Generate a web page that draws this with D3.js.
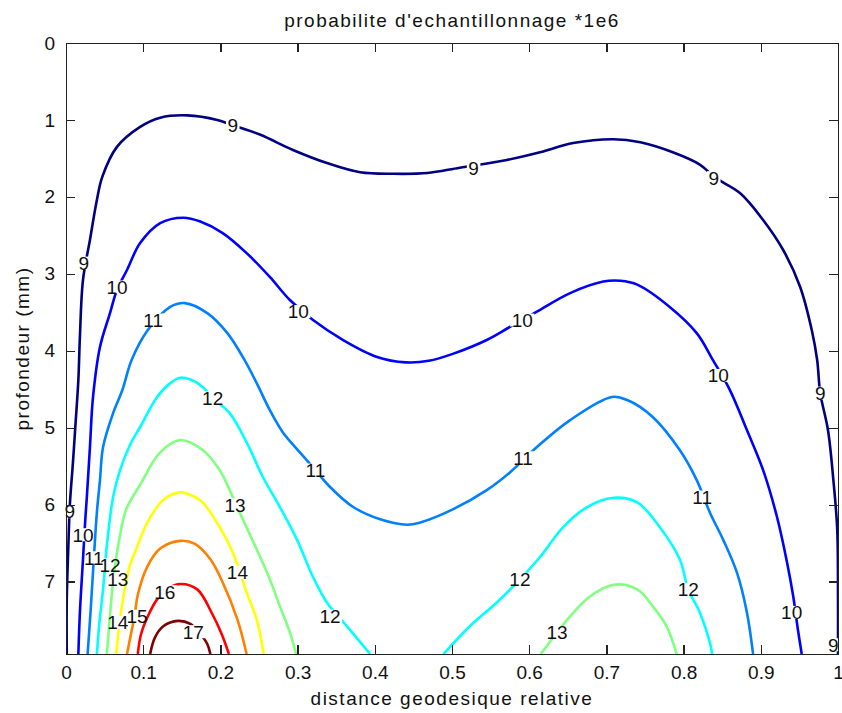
<!DOCTYPE html>
<html lang="fr">
<head>
<meta charset="utf-8">
<title>probabilite d'echantillonnage</title>
<script src="https://cdn.jsdelivr.net/npm/d3@7"></script>
<style>
body { margin: 0; background: #fff; }
text { font-family: "Liberation Sans", Arial, sans-serif; fill: #111; }
.axis path,
.axis line {
  stroke: #222;
  stroke-width: 1.4px;
  shape-rendering: crispEdges;
}
.axis text { font-size: 19px; fill: #111; }
.clabel { font-size: 19px; }
.caption { font-size: 19px; letter-spacing: 1.5px; }
</style>
</head>
<body>
<script>
var w = 842, h = 713;
var padL = 66, padR = 838, padT = 43, padB = 654;

// contour levels and their jet colours
var levels = [9, 10, 11, 12, 13, 14, 15, 16, 17];
var levelColors = ["#000080", "#0000ff", "#0080ff", "#00ffff", "#80ff80",
                   "#ffff00", "#ff8000", "#ff0000", "#800000"];

var xTicks = [0, 0.1, 0.2, 0.3, 0.4, 0.5, 0.6, 0.7, 0.8, 0.9, 1];
var xTickLabels = ["0", "0.1", "0.2", "0.3", "0.4", "0.5", "0.6", "0.7", "0.8", "0.9", "1"];
var yTicks = [0, 1, 2, 3, 4, 5, 6, 7];
var yTickLabels = ["0", "1", "2", "3", "4", "5", "6", "7"];
var yMax = 7.94;

// contour lines: [distance relative, profondeur mm]
var c9 = [[0.001,7.94],[0.001,7.23],[0.003,6.55],[0.005,6.00],[0.009,5.45],[0.012,5.00],[0.016,4.38],
  [0.018,3.82],[0.022,3.08],[0.031,2.56],[0.040,2.04],[0.047,1.74],[0.066,1.35],[0.096,1.09],
  [0.122,0.97],[0.157,0.94],[0.196,1.00],[0.216,1.07],[0.251,1.19],[0.294,1.39],[0.338,1.56],
  [0.381,1.68],[0.424,1.70],[0.468,1.69],[0.510,1.62],[0.571,1.52],[0.614,1.42],[0.657,1.30],
  [0.709,1.25],[0.744,1.29],[0.786,1.42],[0.821,1.58],[0.841,1.75],[0.873,1.95],[0.903,2.30],
  [0.929,2.69],[0.951,3.17],[0.966,3.73],[0.973,4.12],[0.977,4.55],[0.987,5.03],[0.994,5.68],
  [0.999,6.32],[1.0,7.19],[1.0,7.94]];
var c10 = [[0.016,7.94],[0.018,7.40],[0.022,6.71],[0.025,6.19],[0.027,5.90],[0.031,5.25],[0.035,4.60],
  [0.044,3.95],[0.057,3.51],[0.066,3.21],[0.079,2.95],[0.096,2.60],[0.122,2.34],[0.152,2.27],
  [0.174,2.32],[0.203,2.47],[0.234,2.73],[0.264,3.04],[0.290,3.34],[0.320,3.60],[0.359,3.86],
  [0.403,4.08],[0.440,4.15],[0.470,4.13],[0.501,4.04],[0.545,3.86],[0.575,3.69],[0.610,3.49],
  [0.653,3.25],[0.696,3.10],[0.718,3.09],[0.740,3.14],[0.782,3.43],[0.817,3.77],[0.838,4.12],
  [0.860,4.51],[0.882,5.03],[0.903,5.55],[0.921,6.16],[0.934,6.75],[0.942,7.19],[0.948,7.62],
  [0.953,7.94]];
var c11 = [[0.028,7.94],[0.032,7.36],[0.036,6.71],[0.040,6.10],[0.044,5.68],[0.048,5.25],[0.061,4.81],
  [0.073,4.51],[0.085,4.12],[0.106,3.73],[0.135,3.43],[0.154,3.38],[0.183,3.51],[0.209,3.77],
  [0.229,4.08],[0.247,4.42],[0.264,4.77],[0.281,5.06],[0.303,5.32],[0.323,5.55],[0.342,5.77],
  [0.372,6.03],[0.407,6.19],[0.442,6.26],[0.459,6.23],[0.501,6.06],[0.545,5.81],[0.575,5.58],
  [0.610,5.25],[0.653,4.90],[0.707,4.60],[0.727,4.64],[0.760,4.86],[0.795,5.29],[0.817,5.68],
  [0.834,6.10],[0.851,6.45],[0.869,6.88],[0.882,7.40],[0.890,7.94]];
var c12a = [[0.040,7.94],[0.043,7.56],[0.048,7.10],[0.053,6.52],[0.061,5.90],[0.070,5.55],[0.083,5.22],
  [0.096,4.99],[0.118,4.60],[0.135,4.42],[0.148,4.35],[0.163,4.38],[0.177,4.47],[0.190,4.61],
  [0.212,4.81],[0.234,5.19],[0.255,5.64],[0.277,6.03],[0.299,6.45],[0.320,6.94],[0.338,7.27],
  [0.364,7.58],[0.394,7.94]];
var c12b = [[0.489,7.94],[0.523,7.58],[0.558,7.27],[0.588,6.97],[0.614,6.68],[0.644,6.29],[0.675,6.03],
  [0.709,5.91],[0.740,5.97],[0.769,6.29],[0.795,6.71],[0.806,7.10],[0.821,7.40],[0.834,7.79],
  [0.837,7.94]];
var c13a = [[0.053,7.94],[0.057,7.43],[0.062,6.91],[0.069,6.45],[0.078,6.06],[0.096,5.74],[0.122,5.32],
  [0.148,5.16],[0.177,5.29],[0.199,5.55],[0.212,5.81],[0.229,6.19],[0.247,6.58],[0.264,6.97],
  [0.277,7.32],[0.290,7.66],[0.298,7.94]];
var c13b = [[0.615,7.94],[0.636,7.66],[0.653,7.45],[0.679,7.19],[0.709,7.04],[0.740,7.10],[0.760,7.32],
  [0.778,7.58],[0.791,7.94]];
var c14 = [[0.065,7.94],[0.070,7.49],[0.076,7.10],[0.083,6.78],[0.092,6.55],[0.102,6.30],[0.113,6.10],
  [0.128,5.92],[0.148,5.84],[0.167,5.90],[0.177,5.97],[0.199,6.29],[0.216,6.62],[0.234,7.14],
  [0.247,7.49],[0.256,7.94]];
var c15 = [[0.079,7.94],[0.084,7.69],[0.089,7.43],[0.093,7.17],[0.105,6.81],[0.122,6.57],[0.148,6.47],
  [0.167,6.51],[0.187,6.71],[0.203,7.01],[0.222,7.49],[0.234,7.94]];
var c16 = [[0.093,7.94],[0.097,7.69],[0.106,7.45],[0.118,7.23],[0.132,7.09],[0.148,7.03],[0.170,7.10],
  [0.190,7.43],[0.202,7.69],[0.211,7.94]];
var c17 = [[0.109,7.94],[0.115,7.73],[0.126,7.58],[0.145,7.51],[0.161,7.55],[0.174,7.68],[0.183,7.81],
  [0.187,7.94]];

// inline label positions per level
var lab9 = [[0.216,1.07],[0.528,1.62],[0.839,1.75],[0.023,2.86],[0.005,6.09],[0.977,4.55],[0.994,7.82]];
var lab10 = [[0.066,3.17],[0.301,3.49],[0.591,3.60],[0.845,4.32],[0.940,7.40],[0.022,6.39]];
var lab11 = [[0.113,3.60],[0.323,5.55],[0.592,5.39],[0.824,5.90],[0.036,6.69]];
var lab12 = [[0.190,4.61],[0.342,7.45],[0.588,6.97],[0.806,7.10],[0.057,6.78]];
var lab13 = [[0.219,6.00],[0.636,7.66],[0.067,6.97]];
var lab14 = [[0.222,6.88],[0.067,7.53]];
var lab15 = [[0.092,7.45]];
var lab16 = [[0.128,7.13]];
var lab17 = [[0.165,7.65]];

var pieces = [[9, c9], [10, c10], [11, c11], [12, c12a], [12, c12b], [13, c13a], [13, c13b],
              [14, c14], [15, c15], [16, c16], [17, c17]];
var labels = [lab9, lab10, lab11, lab12, lab13, lab14, lab15, lab16, lab17];

var xScale = d3.scaleLinear().domain([0, 1]).range([padL, padR]);
var yScale = d3.scaleLinear().domain([0, yMax]).range([padT, padB]);

var svg = d3.select("body").append("svg")
  .attr("width", w)
  .attr("height", h);

var defs = svg.append("defs");
defs.append("clipPath").attr("id", "plot")
  .append("rect")
  .attr("x", padL).attr("y", padT)
  .attr("width", padR - padL).attr("height", padB - padT);

// masks cut a gap in each line where its labels sit
levels.forEach(function(lv, i) {
  var bw = String(lv).length * 10.6 + 3, bh = 13;
  var m = defs.append("mask").attr("id", "m" + lv)
    .attr("maskUnits", "userSpaceOnUse")
    .attr("x", 0).attr("y", 0).attr("width", w).attr("height", h);
  m.append("rect").attr("width", w).attr("height", h).attr("fill", "white");
  m.selectAll("rect.gap")
    .data(labels[i])
    .enter()
    .append("rect")
    .attr("class", "gap")
    .attr("x", function(d) { return xScale(d[0]) - bw / 2; })
    .attr("y", function(d) { return yScale(d[1]) - bh / 2; })
    .attr("width", bw)
    .attr("height", bh)
    .attr("fill", "black");
});

var line = d3.line()
  .x(function(d) { return xScale(d[0]); })
  .y(function(d) { return yScale(d[1]); })
  .curve(d3.curveCatmullRom.alpha(0.5));

var g = svg.append("g").attr("clip-path", "url(#plot)");
g.selectAll("path")
  .data(pieces)
  .enter()
  .append("path")
  .attr("d", function(d) { return line(d[1]); })
  .attr("mask", function(d) { return "url(#m" + d[0] + ")"; })
  .attr("fill", "none")
  .attr("stroke", function(d) { return levelColors[levels.indexOf(d[0])]; })
  .attr("stroke-width", 2.6)
  .attr("stroke-linejoin", "round");

// contour labels
levels.forEach(function(lv, i) {
  svg.selectAll("text.l" + lv)
    .data(labels[i])
    .enter()
    .append("text")
    .attr("class", "clabel l" + lv)
    .attr("x", function(d) { return xScale(d[0]); })
    .attr("y", function(d) { return yScale(d[1]); })
    .attr("dy", "0.36em")
    .attr("text-anchor", "middle")
    .text(lv);
});

// axes, ticks pointing inward on all four sides
var xAxis = d3.axisBottom(xScale).tickValues(xTicks)
  .tickFormat(function(d, i) { return xTickLabels[i]; })
  .tickSizeInner(-9).tickSizeOuter(0).tickPadding(12);
var yAxis = d3.axisLeft(yScale).tickValues(yTicks)
  .tickFormat(function(d, i) { return yTickLabels[i]; })
  .tickSizeInner(-9).tickSizeOuter(0).tickPadding(11);
var xTop = d3.axisTop(xScale).tickValues(xTicks).tickFormat("")
  .tickSizeInner(-9).tickSizeOuter(0);
var yRight = d3.axisRight(yScale).tickValues(yTicks).tickFormat("")
  .tickSizeInner(-9).tickSizeOuter(0);

svg.append("g").attr("class", "axis")
  .attr("transform", "translate(0," + padB + ")").call(xAxis);
svg.append("g").attr("class", "axis")
  .attr("transform", "translate(" + padL + ",0)").call(yAxis);
svg.append("g").attr("class", "axis")
  .attr("transform", "translate(0," + padT + ")").call(xTop);
svg.append("g").attr("class", "axis")
  .attr("transform", "translate(" + padR + ",0)").call(yRight);
svg.selectAll(".axis text").attr("font-family", null);

// title and axis labels
svg.append("text").attr("class", "caption")
  .attr("x", (padL + padR) / 2).attr("y", 27)
  .attr("text-anchor", "middle")
  .text("probabilite d'echantillonnage *1e6");
svg.append("text").attr("class", "caption")
  .attr("x", (padL + padR) / 2).attr("y", 705)
  .attr("text-anchor", "middle")
  .text("distance geodesique relative");
svg.append("text").attr("class", "caption")
  .attr("transform", "translate(29," + (padT + padB) / 2 + ") rotate(-90)")
  .attr("text-anchor", "middle")
  .text("profondeur (mm)");
</script>
</body>
</html>
